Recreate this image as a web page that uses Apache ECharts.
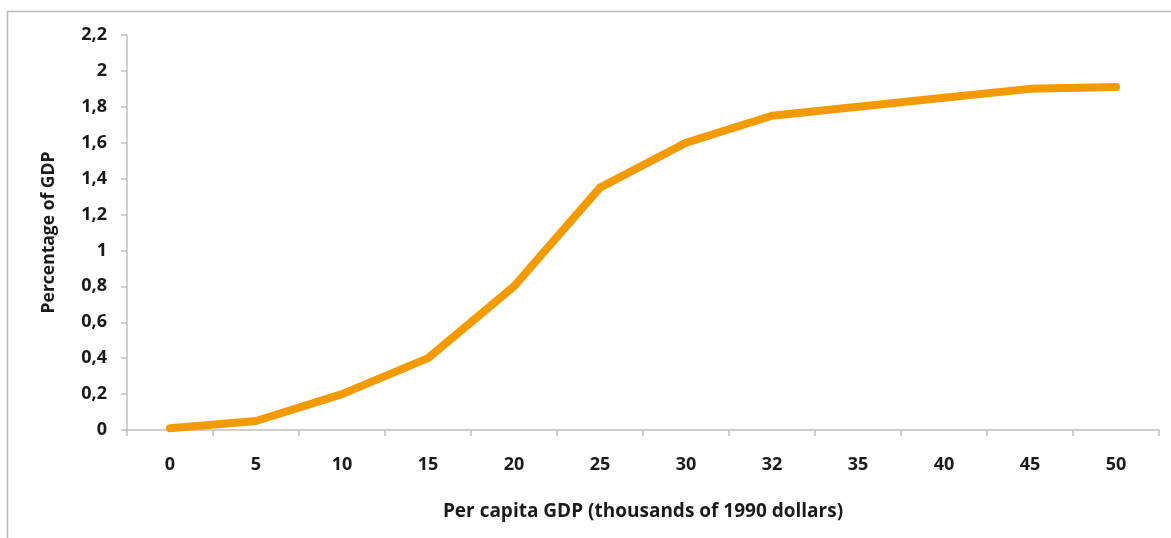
<!DOCTYPE html>
<html><head><meta charset="utf-8">
<script src="https://cdn.jsdelivr.net/npm/echarts@6/dist/echarts.min.js"></script>
<style>html,body{margin:0;padding:0;background:#fff}#c{width:1171px;height:538px}</style>
</head><body><div id="c"></div>
<script>
const categories = ['0','5','10','15','20','25','30','32','35','40','45','50'];
const values = [0.01, 0.05, 0.2, 0.4, 0.8, 1.35, 1.6, 1.75, 1.8, 1.85, 1.9, 1.91];
const yTicks = {min: 0, max: 2.2, interval: 0.2};
const xName = 'Per capita GDP (thousands of 1990 dollars)';
const yName = 'Percentage of GDP';

const chart = echarts.init(document.getElementById('c'), null, {renderer: 'canvas'});
const font = '"Open Sans", "Liberation Sans", sans-serif';
chart.setOption({
  animation: false,
  backgroundColor: '#fff',
  graphic: [
    {type: 'polyline', shape: {points: [[7.5, 600], [7.5, 11.5], [1200, 11.5]]},
     style: {stroke: '#b8b8b8', lineWidth: 1.5, fill: null}, silent: true}
  ],
  grid: {left: 127, right: 12, top: 35, bottom: 108, containLabel: false},
  xAxis: {
    type: 'category', data: categories, boundaryGap: true,
    name: xName, nameLocation: 'middle', nameGap: 72,
    nameTextStyle: {fontFamily: font, fontWeight: 'bold', fontSize: 19, color: '#1a1a1a'},
    axisLine: {lineStyle: {color: '#bfbfbf', width: 1.5}},
    axisTick: {show: true, alignWithLabel: false, length: 6, lineStyle: {color: '#bfbfbf', width: 1.5}},
    axisLabel: {fontFamily: font, fontWeight: 'bold', fontSize: 18, color: '#1a1a1a', margin: 26},
    splitLine: {show: false}
  },
  yAxis: {
    type: 'value', min: yTicks.min, max: yTicks.max, interval: yTicks.interval,
    name: yName, nameLocation: 'middle', nameGap: 69, nameRotate: 90,
    nameTextStyle: {fontFamily: font, fontWeight: 'bold', fontSize: 17.5, color: '#1a1a1a'},
    axisLine: {show: true, lineStyle: {color: '#bfbfbf', width: 1.5}},
    axisTick: {show: true, length: 6, lineStyle: {color: '#bfbfbf', width: 1.5}},
    axisLabel: {fontFamily: font, fontWeight: 'bold', fontSize: 18, color: '#1a1a1a', margin: 20,
      formatter: v => String(Math.round(v * 10) / 10).replace('.', ',')},
    splitLine: {show: false}
  },
  series: [{
    type: 'line', data: values, symbol: 'none', smooth: false,
    lineStyle: {color: '#f39a00', width: 8, cap: 'round', join: 'round'}
  }]
});
</script></body></html>
